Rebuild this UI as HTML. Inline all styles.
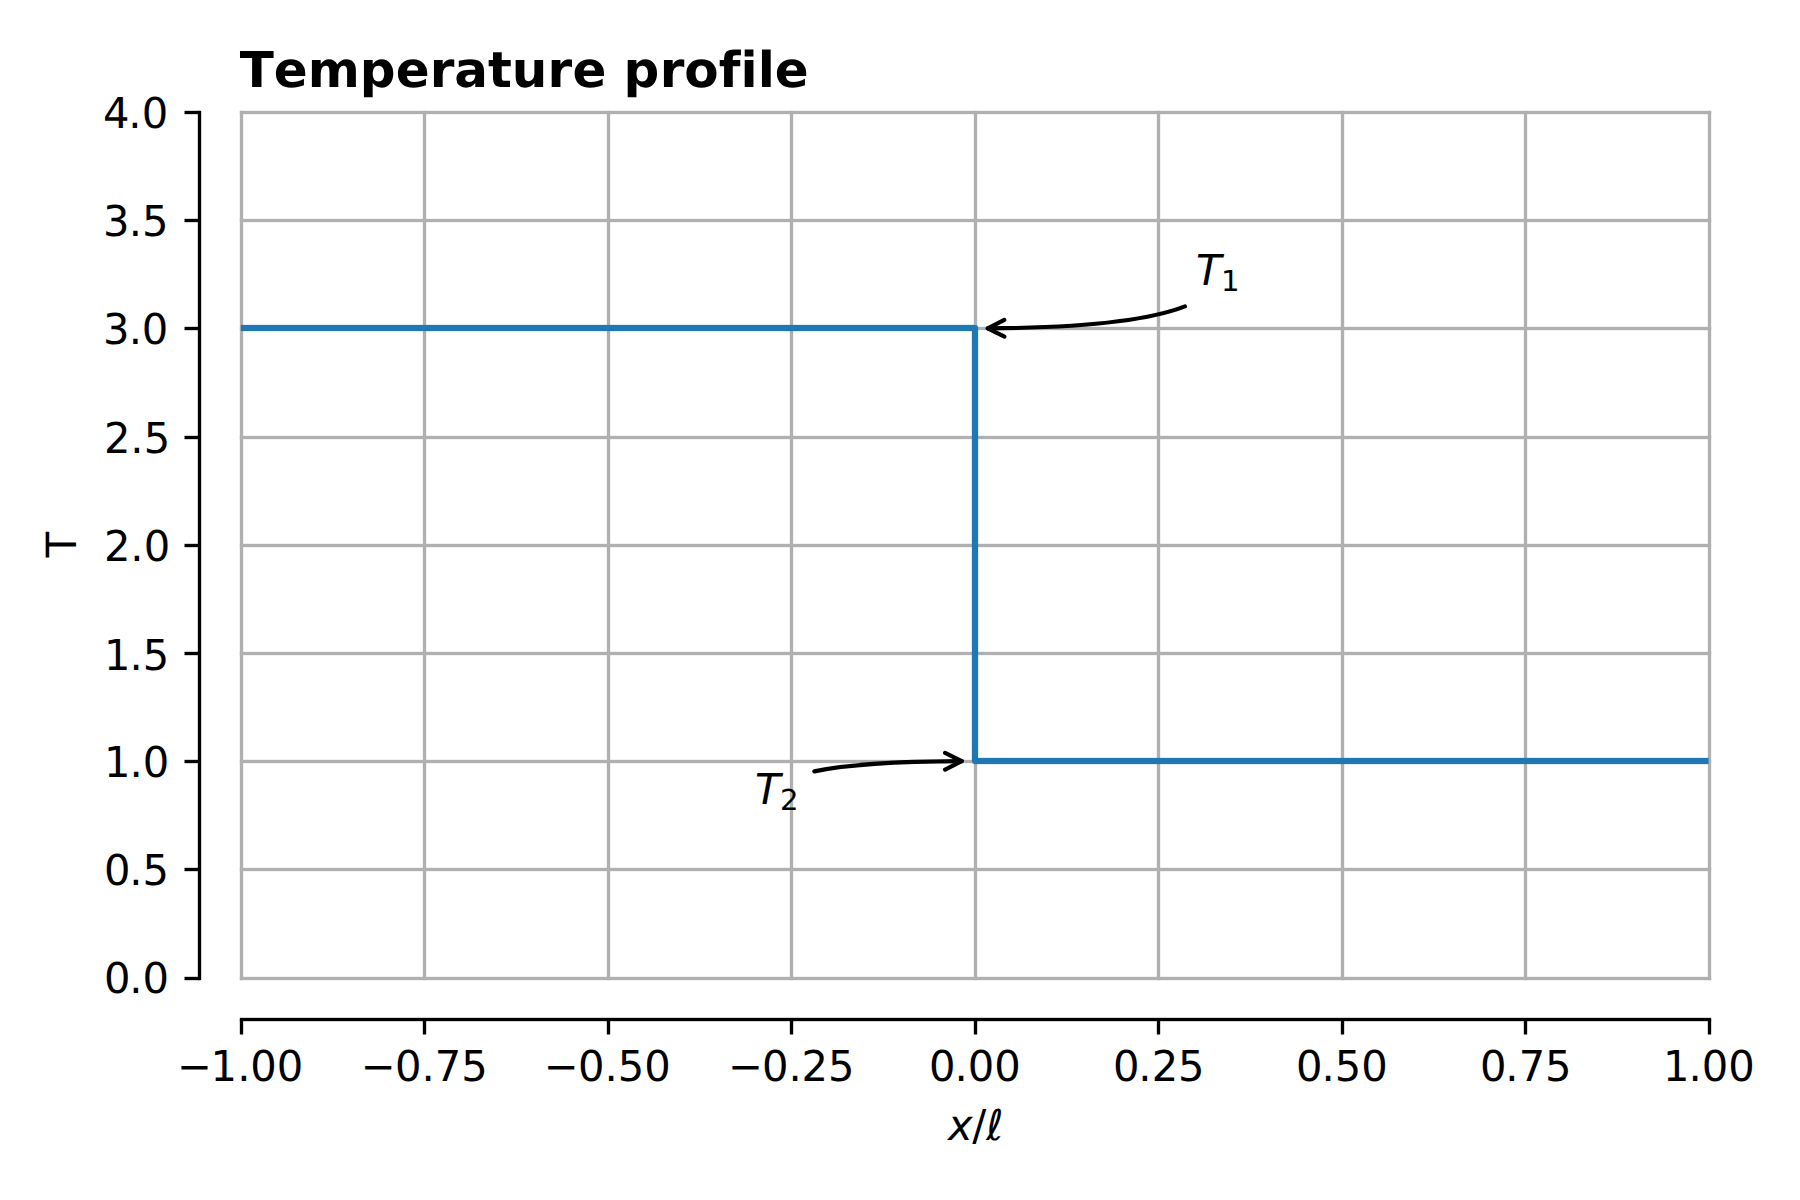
<!DOCTYPE html>
<html lang="en"><head><meta charset="utf-8"><title>Temperature profile</title>
<style>
html,body{margin:0;padding:0;background:#fff;}
body{width:1800px;height:1200px;overflow:hidden;}
svg{display:block;}
text{font-family:"DejaVu Sans","Liberation Sans",sans-serif;fill:#000;font-kerning:none;font-variant-ligatures:none;font-feature-settings:"liga" 0,"clig" 0,"kern" 0;text-rendering:geometricPrecision;}
.tk{font-size:41.6667px;}
.it{font-style:oblique;}
.sub{font-size:29.1667px;}
.ttl{font-size:50.0000px;font-weight:700;}
.grid line{stroke:#b0b0b0;stroke-width:3.3333;}
.ax line{stroke:#000;stroke-width:3.3333;}
.arrow path{fill:none;stroke:#000;stroke-width:4.1667;stroke-linecap:round;stroke-linejoin:round;}
</style></head><body>
<svg width="1800" height="1200" viewBox="0 0 1800 1200">
<rect x="0" y="0" width="1800" height="1200" fill="#ffffff"/>
<g fill="#b0b0b0">
<rect x="239.833" y="110.833" width="3.333" height="869.333"/>
<rect x="422.833" y="110.833" width="3.333" height="869.333"/>
<rect x="606.833" y="110.833" width="3.333" height="869.333"/>
<rect x="789.833" y="110.833" width="3.333" height="869.333"/>
<rect x="973.833" y="110.833" width="3.333" height="869.333"/>
<rect x="1156.833" y="110.833" width="3.333" height="869.333"/>
<rect x="1340.833" y="110.833" width="3.333" height="869.333"/>
<rect x="1523.833" y="110.833" width="3.333" height="869.333"/>
<rect x="1707.833" y="110.833" width="3.333" height="869.333"/>
<rect x="239.833" y="110.833" width="1471.333" height="3.333"/>
<rect x="239.833" y="218.833" width="1471.333" height="3.333"/>
<rect x="239.833" y="326.833" width="1471.333" height="3.333"/>
<rect x="239.833" y="435.833" width="1471.333" height="3.333"/>
<rect x="239.833" y="543.833" width="1471.333" height="3.333"/>
<rect x="239.833" y="651.833" width="1471.333" height="3.333"/>
<rect x="239.833" y="759.833" width="1471.333" height="3.333"/>
<rect x="239.833" y="867.833" width="1471.333" height="3.333"/>
<rect x="239.833" y="976.833" width="1471.333" height="3.333"/>
</g>
<g fill="#1f77b4">
<rect x="240.875" y="324.875" width="734.125" height="6.250"/>
<rect x="971.875" y="328.000" width="6.250" height="433.000"/>
<rect x="975.000" y="757.875" width="733.625" height="6.250"/>
<circle cx="975.000" cy="328.000" r="3.1250"/>
<circle cx="975.000" cy="761.000" r="3.1250"/>
</g>
<g fill="#000000">
<rect x="197.833" y="110.833" width="3.333" height="869.333"/>
<rect x="239.833" y="1017.833" width="1471.333" height="3.333"/>
<rect x="184.500" y="110.833" width="15.000" height="3.333"/>
<rect x="184.500" y="218.833" width="15.000" height="3.333"/>
<rect x="184.500" y="326.833" width="15.000" height="3.333"/>
<rect x="184.500" y="435.833" width="15.000" height="3.333"/>
<rect x="184.500" y="543.833" width="15.000" height="3.333"/>
<rect x="184.500" y="651.833" width="15.000" height="3.333"/>
<rect x="184.500" y="759.833" width="15.000" height="3.333"/>
<rect x="184.500" y="867.833" width="15.000" height="3.333"/>
<rect x="184.500" y="976.833" width="15.000" height="3.333"/>
<rect x="239.833" y="1019.500" width="3.333" height="15.000"/>
<rect x="422.833" y="1019.500" width="3.333" height="15.000"/>
<rect x="606.833" y="1019.500" width="3.333" height="15.000"/>
<rect x="789.833" y="1019.500" width="3.333" height="15.000"/>
<rect x="973.833" y="1019.500" width="3.333" height="15.000"/>
<rect x="1156.833" y="1019.500" width="3.333" height="15.000"/>
<rect x="1340.833" y="1019.500" width="3.333" height="15.000"/>
<rect x="1523.833" y="1019.500" width="3.333" height="15.000"/>
<rect x="1707.833" y="1019.500" width="3.333" height="15.000"/>
</g>
<text class="tk" x="176.88 210.50 237.20 250.30 276.81" y="1081.00" transform="matrix(1 0 0 1.0200 0 -21.620)">−1.00</text>
<text class="tk" x="360.83 395.01 421.39 434.71 461.13" y="1081.00" transform="matrix(1 0 0 1.0200 0 -21.620)">−0.75</text>
<text class="tk" x="543.85 577.94 604.49 617.66 644.13" y="1081.00" transform="matrix(1 0 0 1.0200 0 -21.620)">−0.50</text>
<text class="tk" x="727.92 761.89 788.53 801.56 827.96" y="1081.00" transform="matrix(1 0 0 1.0200 0 -21.620)">−0.25</text>
<text class="tk" x="929.12 954.54 967.70 994.28" y="1081.00" transform="matrix(1 0 0 1.0200 0 -21.620)">0.00</text>
<text class="tk" x="1113.05 1138.34 1151.76 1178.02" y="1081.00" transform="matrix(1 0 0 1.0200 0 -21.620)">0.25</text>
<text class="tk" x="1296.05 1321.48 1334.71 1361.28" y="1081.00" transform="matrix(1 0 0 1.0200 0 -21.620)">0.50</text>
<text class="tk" x="1479.99 1505.28 1518.75 1544.95" y="1081.00" transform="matrix(1 0 0 1.0200 0 -21.620)">0.75</text>
<text class="tk" x="1662.92 1688.42 1701.86 1728.20" y="1081.00" transform="matrix(1 0 0 1.0200 0 -21.620)">1.00</text>
<text class="tk" x="103.05 128.29 141.65" y="128.00" transform="matrix(1 0 0 1.0200 0 -2.560)">4.0</text>
<text class="tk" x="103.05 128.72 141.88" y="236.00" transform="matrix(1 0 0 1.0200 0 -4.720)">3.5</text>
<text class="tk" x="103.05 128.72 141.78" y="344.00" transform="matrix(1 0 0 1.0200 0 -6.880)">3.0</text>
<text class="tk" x="103.99 130.29 143.69" y="453.00" transform="matrix(1 0 0 1.0200 0 -9.060)">2.5</text>
<text class="tk" x="103.99 130.29 143.63" y="561.00" transform="matrix(1 0 0 1.0200 0 -11.220)">2.0</text>
<text class="tk" x="103.97 129.39 142.77" y="670.00" transform="matrix(1 0 0 1.0200 0 -13.400)">1.5</text>
<text class="tk" x="103.97 129.39 142.75" y="777.00" transform="matrix(1 0 0 1.0200 0 -15.540)">1.0</text>
<text class="tk" x="103.89 129.19 142.57" y="885.00" transform="matrix(1 0 0 1.0200 0 -17.700)">0.5</text>
<text class="tk" x="103.89 129.19 142.59" y="993.00" transform="matrix(1 0 0 1.0200 0 -19.860)">0.0</text>
<text class="tk it" x="948.02" y="1140.00" transform="matrix(1 0 0 1.0200 0 -22.800)">x</text>
<text class="tk" x="972.18" y="1140.00" transform="matrix(1 0 0 1.0200 0 -22.800)">/</text>
<text class="tk it" x="986.22" y="1140.00" transform="matrix(1 0 0 1.0200 0 -22.800)">ℓ</text>
<text class="tk" x="0" y="0" text-anchor="middle" transform="translate(75.93 544.44) rotate(-90)">T</text>
<text class="ttl" x="239.76 273.81 307.65 359.86 395.68 429.66 454.28 488.03 511.86 547.59 572.42 605.96 623.45 659.63 684.37 718.65 740.60 757.81 774.86" y="87.00" transform="matrix(1 0 0 0.9874 0 1.096)">Temperature profile</text>
<text class="tk it" x="1196.09" y="285.00" transform="matrix(1 0 0 1.0200 0 -5.700)">T</text>
<text class="sub" x="1220.94" y="291.00" transform="matrix(1 0 0 0.9880 0 3.492)">1</text>
<text class="tk it" x="755.05" y="804.00" transform="matrix(1 0 0 1.0200 0 -16.080)">T</text>
<text class="sub" x="780.00" y="810.00" transform="matrix(1 0 0 0.9880 0 9.720)">2</text>
<g class="arrow">
<path d="M 1184.900 306.406 Q 1130.110 327.750 987.739 328.315"/>
<path d="M 1004.439 336.582 L 987.739 328.315 L 1004.372 319.916"/>
<path d="M 814.300 771.371 Q 861.063 761.534 961.749 761.181"/>
<path d="M 945.054 752.906 L 961.749 761.181 L 945.112 769.573"/>
</g>
</svg>
</body></html>
